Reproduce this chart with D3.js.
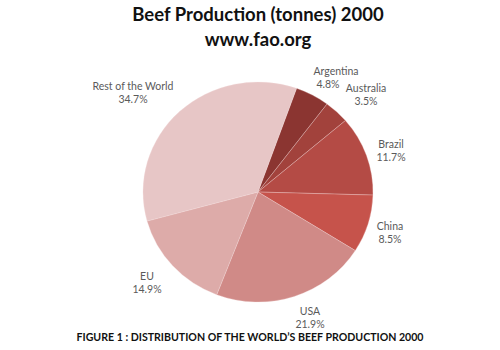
<!DOCTYPE html>
<html>
<head>
<meta charset="utf-8">
<script src="https://cdn.jsdelivr.net/npm/d3@7"></script>
<style>
  html, body { margin: 0; padding: 0; background: #fff; }
  svg { display: block; }
</style>
</head>
<body>
<svg id="chart" width="500" height="350"></svg>
<script>
// Beef production share by producer, 2000
const categories = ["Argentina", "Australia", "Brazil", "China", "USA", "EU", "Rest of the World"];
const shares = [4.8, 3.5, 11.7, 8.5, 21.9, 14.9, 34.7];
const sliceColors = ["#8b3531", "#a2423c", "#b44b45", "#c6534b", "#d08a87", "#ddaba9", "#e7c6c6"];
// label anchor points (centre of the two-line label)
const labelPos = [
  [336, 71], [366, 88], [391, 144], [390, 226], [310, 311], [147, 276], [133, 86]
];

const svg = d3.select("#chart");
const W = 500;
const font = "Lato, 'Open Sans', sans-serif";

// Titles
svg.append("text")
  .attr("x", 258).attr("y", 21)
  .attr("text-anchor", "middle")
  .attr("font-family", font).attr("font-weight", "bold")
  .attr("font-size", 18.5).attr("fill", "#111")
  .text("Beef Production (tonnes) 2000");
svg.append("text")
  .attr("x", 258).attr("y", 46)
  .attr("text-anchor", "middle")
  .attr("font-family", font).attr("font-weight", "bold")
  .attr("font-size", 18.5).attr("fill", "#111")
  .text("www.fao.org");

// Pie
const cx = 258, cy = 192, rx = 115, ry = 110;
const startDeg = 19.6;
const pie = d3.pie().sort(null).value(d => d)
  .startAngle(startDeg * Math.PI / 180)
  .endAngle((startDeg + 360) * Math.PI / 180);
const arcs = pie(shares);
const arc = d3.arc().innerRadius(0).outerRadius(rx);

const g = svg.append("g")
  .attr("transform", `translate(${cx},${cy}) scale(1,${ry / rx})`);
g.selectAll("path")
  .data(arcs)
  .join("path")
  .attr("d", arc)
  .attr("fill", (d, i) => sliceColors[i])
  .attr("stroke", "#f3dede")
  .attr("stroke-width", 0.5)
  .attr("stroke-opacity", 0.6);

// Data labels
const fmt = d3.format(".1f");
const lab = svg.append("g")
  .attr("font-family", font).attr("font-size", 10.5).attr("fill", "#5a5a5a")
  .attr("text-anchor", "middle");
categories.forEach((c, i) => {
  const [x, y] = labelPos[i];
  const t = lab.append("text").attr("x", x).attr("y", y + 3.5);
  t.append("tspan").attr("x", x).text(c);
  t.append("tspan").attr("x", x).attr("dy", 13).text(fmt(shares[i]) + "%");
});
// the Argentina percentage sits a little left of its name
lab.selectAll("text").filter((d, i) => i === 0).select("tspan:nth-child(2)").attr("x", 328);

// Caption
svg.append("text")
  .attr("x", 250).attr("y", 340.5)
  .attr("text-anchor", "middle")
  .attr("font-family", font).attr("font-weight", "bold")
  .attr("font-size", 11.5).attr("fill", "#111")
  .attr("textLength", 347).attr("lengthAdjust", "spacingAndGlyphs")
  .text("FIGURE 1 : DISTRIBUTION OF THE WORLD’S BEEF PRODUCTION 2000");
</script>
</body>
</html>
